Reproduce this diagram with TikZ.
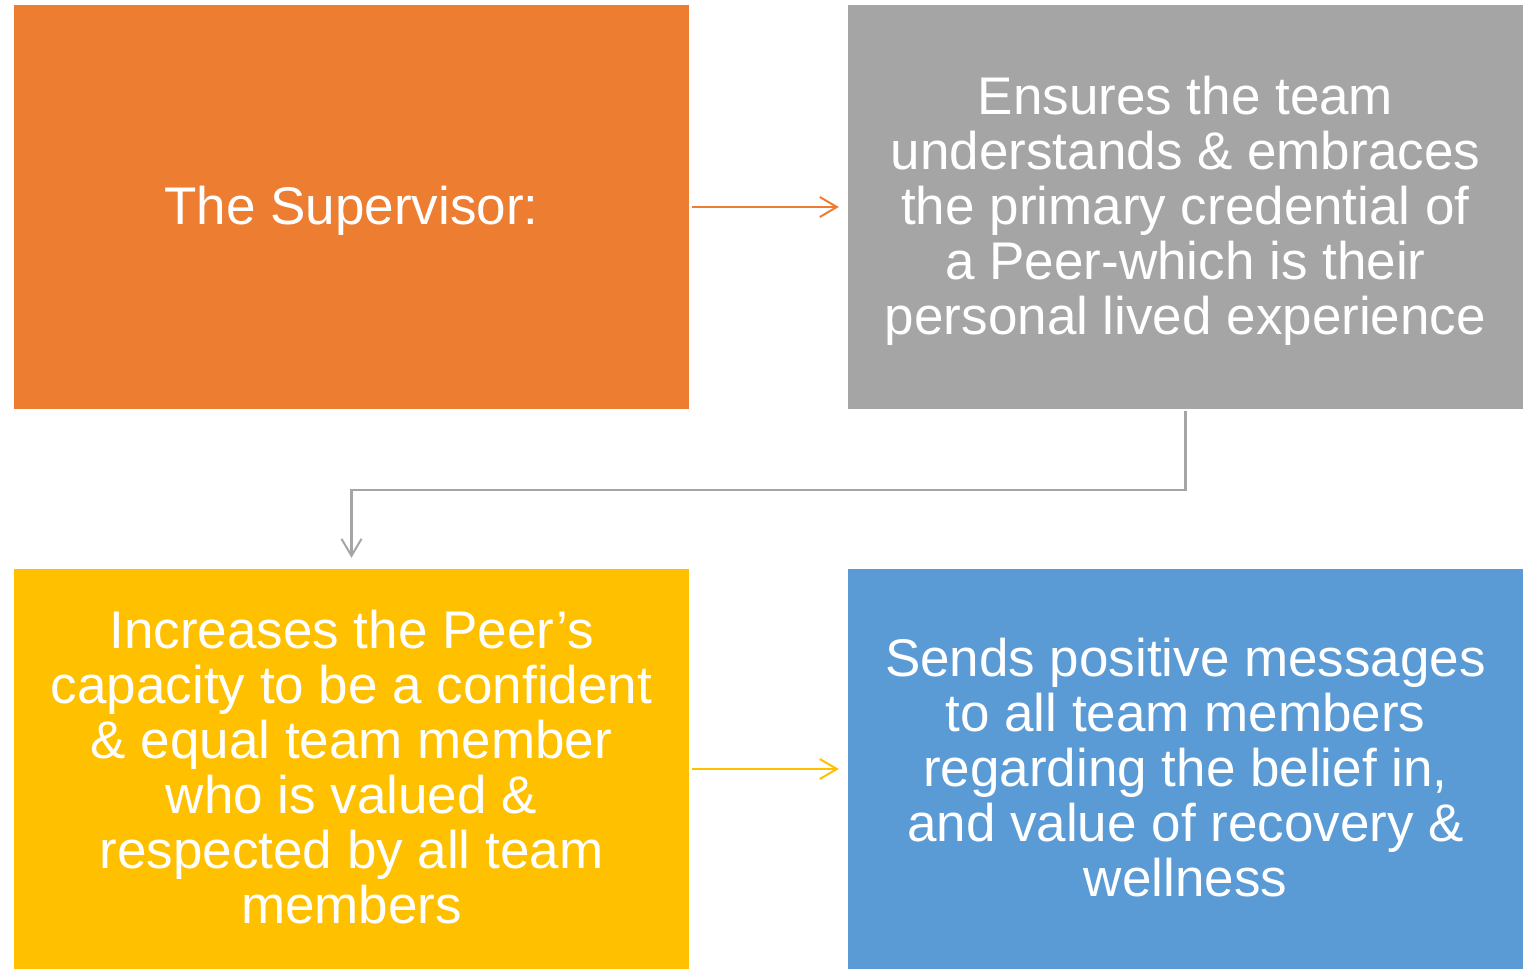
\documentclass[tikz,border=0pt]{standalone}
\usepackage{fontspec}
\setmainfont{Liberation Sans}
\usetikzlibrary{arrows.meta}
\definecolor{boxorange}{HTML}{ED7D31}
\definecolor{boxgray}{HTML}{A5A5A5}
\definecolor{boxyellow}{HTML}{FFC000}
\definecolor{boxblue}{HTML}{5B9BD5}
% centred lines of card text, set a little below the strut centre
\newcommand{\cardtext}[1]{\raisebox{-6pt}[\height][\depth]{\begin{tabular}{@{}c@{}}#1\end{tabular}}}
\tikzset{
  card/.style={rectangle, inner sep=0pt, minimum width=675pt, text=white,
    font=\fontsize{53}{55}\selectfont},
  link/.style={line width=2pt, -{Straight Barb[length=17pt,width=20pt,line width=2pt]}}
}
\begin{document}
\begin{tikzpicture}[x=1pt,y=-1pt]
  \useasboundingbox (0,0) rectangle (1526,969);
  % four step cards
  \node[card, fill=boxorange, minimum height=404pt] (sup) at (351.5,207)
    {\cardtext{The Supervisor:}};
  \node[card, fill=boxgray, minimum height=404pt] (team) at (1185.5,207)
    {\cardtext{Ensures the team\\understands \& embraces\\the primary credential of\\a Peer-which is their\\personal lived experience}};
  \node[card, fill=boxyellow, minimum height=400pt] (peer) at (351.5,769)
    {\cardtext{Increases the Peer’s\\capacity to be a confident\\\& equal team member\\who is valued \&\\respected by all team\\members}};
  \node[card, fill=boxblue, minimum height=400pt] (msg) at (1185.5,769)
    {\cardtext{Sends positive messages\\to all team members\\regarding the belief in,\\and value of recovery \&\\wellness}};
  % connectors between the cards
  \draw[link, boxorange] ([xshift=3pt]sup.east) -- ([xshift=-9pt]team.west);
  \draw[link, boxgray, line width=2.5pt] ([yshift=-2pt]team.south) -- ++(0,79) -| ([yshift=11pt]peer.north);
  \draw[link, boxyellow] ([xshift=3pt]peer.east) -- ([xshift=-9pt]msg.west);
\end{tikzpicture}
\end{document}
